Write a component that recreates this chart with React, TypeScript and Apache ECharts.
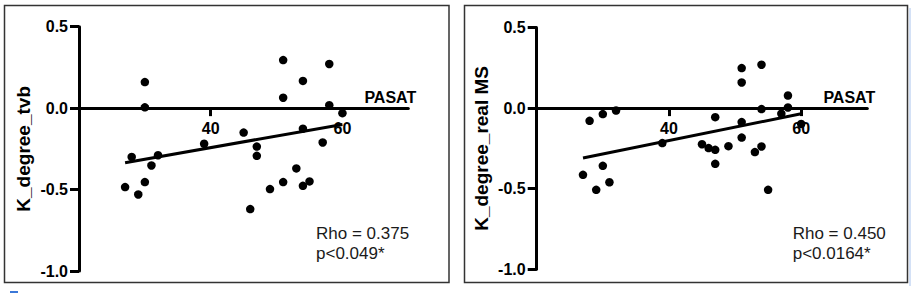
import React, { useEffect, useRef } from "react";
import * as echarts from "echarts";

// ---- data ----
const xTickValues = [40, 60];
const xMin = 20;
const xMax = 70;
const xInterval = 20;
const yMin = -1;
const yMax = 0.5;
const yInterval = 0.5;

const leftPasat = [27, 28, 29, 30, 30, 30, 31, 32, 39, 45, 46, 47, 47, 49, 51, 51, 51, 53, 54, 54, 54, 55, 57, 58, 58, 60];
const leftK = [-0.485, -0.3, -0.53, 0.16, 0.005, -0.454, -0.352, -0.289, -0.219, -0.15, -0.62, -0.236, -0.293, -0.497, 0.295, 0.064, -0.454, -0.37, 0.167, -0.126, -0.477, -0.45, -0.211, 0.271, 0.018, -0.031];
const leftFitX = [27, 60];
const leftFitY = [-0.335, -0.1];

const rightPasat = [27, 28, 29, 30, 30, 31, 32, 39, 45, 46, 47, 47, 47, 49, 51, 51, 51, 51, 53, 54, 54, 54, 55, 57, 58, 58, 60];
const rightK = [-0.414, -0.079, -0.507, -0.037, -0.358, -0.46, -0.015, -0.217, -0.224, -0.248, -0.056, -0.259, -0.346, -0.236, 0.248, 0.159, -0.087, -0.183, -0.273, 0.269, -0.006, -0.238, -0.507, -0.035, 0.078, 0.004, -0.098];
const rightFitX = [27, 60];
const rightFitY = [-0.31, -0.035];

const xName = "PASAT";
const leftYName = "K_degree_tvb";
const rightYName = "K_degree_real MS";
const leftStats = ["Rho = 0.375", "p<0.049*"];
const rightStats = ["Rho = 0.450", "p<0.0164*"];

const AX_FONT = '"Liberation Sans", Arial, sans-serif';
const TXT_FONT = '"Liberation Sans", Arial, sans-serif';

// layout of the two plot areas (pixels)
const grids = [
  { left: 79, top: 26.7, width: 329.3, height: 244.3 },
  { left: 536.7, top: 27.5, width: 330.6, height: 241.8 },
];

function zip(xs: number[], ys: number[]) {
  return xs.map((x, i) => [x, ys[i]]);
}

// distance from the bottom of the grid up to the value 0 on the y axis
function zeroOffset(g: { height: number }) {
  return -g.height * ((0 - yMin) / (yMax - yMin));
}

function makeX(gridIndex: number) {
  return {
    type: "value",
    gridIndex,
    position: "bottom",
    offset: zeroOffset(grids[gridIndex]),
    min: xMin,
    max: xMax,
    interval: xInterval,
    name: xName,
    nameLocation: "end",
    nameGap: -18,
    nameTextStyle: {
      fontFamily: AX_FONT,
      fontWeight: "bold",
      fontSize: 16,
      color: "#000",
      align: "center",
      verticalAlign: "bottom",
      padding: [0, 0, 3, 0],
    },
    axisLine: { show: true, onZero: false, lineStyle: { color: "#000", width: 3 } },
    axisTick: { show: true, length: 8, customValues: xTickValues, lineStyle: { color: "#000", width: 3 } },
    axisLabel: {
      customValues: xTickValues,
      margin: 12,
      fontFamily: AX_FONT,
      fontWeight: "bold",
      fontSize: 16,
      color: "#000",
    },
    splitLine: { show: false },
  };
}

function makeY(gridIndex: number, name: string) {
  return {
    type: "value",
    gridIndex,
    min: yMin,
    max: yMax,
    interval: yInterval,
    name,
    nameLocation: "middle",
    nameGap: 46,
    nameTextStyle: { fontFamily: AX_FONT, fontWeight: "bold", fontSize: 19, color: "#000" },
    axisLine: { show: true, onZero: false, lineStyle: { color: "#000", width: 3 } },
    axisTick: { show: true, length: 9, lineStyle: { color: "#000", width: 3 } },
    axisLabel: {
      margin: 11,
      fontFamily: AX_FONT,
      fontWeight: "bold",
      fontSize: 16,
      color: "#000",
      formatter: (v: number) => v.toFixed(1),
    },
    splitLine: { show: false },
  };
}

function statText(x: number, y: number, s: string) {
  return {
    type: "text",
    x,
    y,
    style: {
      text: s,
      font: `17px ${TXT_FONT}`,
      fill: "#1a1a1a",
      verticalAlign: "top",
    },
    silent: true,
  };
}

export default function App() {
  const ref = useRef<HTMLDivElement>(null);
  useEffect(() => {
    if (!ref.current) return;
    const chart = echarts.init(ref.current, null, { renderer: "svg" });
    chart.setOption({
      animation: false,
      backgroundColor: "#fff",
      grid: grids,
      xAxis: [makeX(0), makeX(1)],
      yAxis: [makeY(0, leftYName), makeY(1, rightYName)],
      series: [
        {
          type: "line",
          xAxisIndex: 0,
          yAxisIndex: 0,
          data: zip(leftFitX, leftFitY),
          symbol: "none",
          lineStyle: { color: "#000", width: 3 },
          z: 3,
        },
        {
          type: "scatter",
          xAxisIndex: 0,
          yAxisIndex: 0,
          data: zip(leftPasat, leftK),
          symbolSize: 8.5,
          itemStyle: { color: "#000", opacity: 1 },
          z: 4,
        },
        {
          type: "line",
          xAxisIndex: 1,
          yAxisIndex: 1,
          data: zip(rightFitX, rightFitY),
          symbol: "none",
          lineStyle: { color: "#000", width: 3 },
          z: 3,
        },
        {
          type: "scatter",
          xAxisIndex: 1,
          yAxisIndex: 1,
          data: zip(rightPasat, rightK),
          symbolSize: 8.5,
          itemStyle: { color: "#000", opacity: 1 },
          z: 4,
        },
      ],
      graphic: [
        {
          type: "rect",
          shape: { x: 4.5, y: 5.5, width: 444.5, height: 277 },
          style: { fill: "none", stroke: "#333", lineWidth: 1.5 },
          silent: true,
        },
        {
          type: "rect",
          shape: { x: 464.5, y: 5.5, width: 443, height: 277 },
          style: { fill: "none", stroke: "#333", lineWidth: 1.5 },
          silent: true,
        },
        {
          type: "rect",
          shape: { x: 10, y: 291, width: 8, height: 2 },
          style: { fill: "#3b78d8" },
          silent: true,
        },
        {
          type: "rect",
          shape: { x: 909.5, y: 8, width: 1, height: 278 },
          style: { fill: "#a9c4ee" },
          silent: true,
        },
        statText(316, 225, leftStats[0]),
        statText(316, 245, leftStats[1]),
        statText(792.7, 225, rightStats[0]),
        statText(792.7, 245, rightStats[1]),
      ],
    });
    return () => chart.dispose();
  }, []);
  return (
    <div
      ref={ref}
      style={{ position: "absolute", left: 0, top: 0, width: 915, height: 293, background: "#fff" }}
    />
  );
}
